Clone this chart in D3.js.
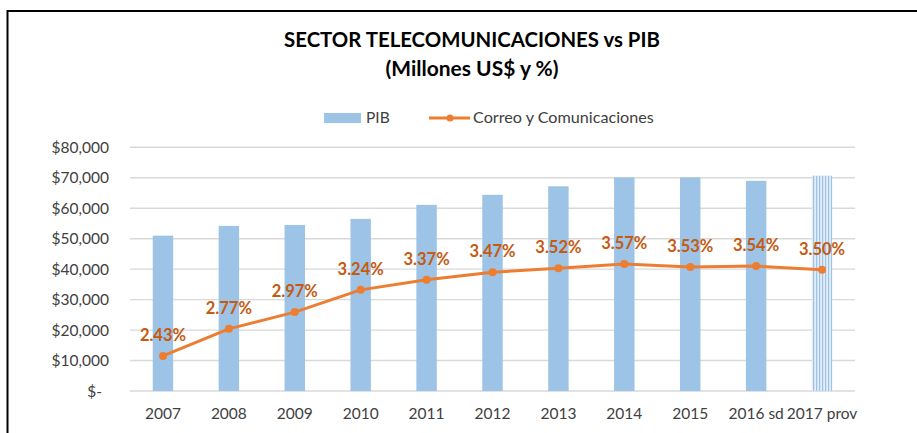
<!DOCTYPE html>
<html><head><meta charset="utf-8">
<script src="https://cdn.jsdelivr.net/npm/d3@7"></script>
<style>
body{margin:0;background:#fff}
text{font-family:Lato,'Liberation Sans',sans-serif}
</style></head>
<body><svg id="c" width="917" height="433"></svg>
<script>
const categories=["2007","2008","2009","2010","2011","2012","2013","2014","2015","2016 sd","2017 prov"];
const pibValues=[51000,54200,54500,56500,61100,64400,67200,70100,70100,69000,70700];
const correoValues=[11500,20400,25900,33200,36500,39000,40300,41700,40700,41000,39800];
const correoLabels=["2.43%","2.77%","2.97%","3.24%","3.37%","3.47%","3.52%","3.57%","3.53%","3.54%","3.50%"];
const yTicks=[0,10000,20000,30000,40000,50000,60000,70000,80000];
const titleLines=["SECTOR TELECOMUNICACIONES vs PIB","(Millones US$ y %)"];
const legendNames=["PIB","Correo y Comunicaciones"];

const svg=d3.select("#c");
const barColor="#9DC3E6", lineColor="#ED7D31", labelColor="#C55A11", axisText="#404040";

const defs=svg.append("defs");
const pat=defs.append("pattern").attr("id","stripes").attr("patternUnits","userSpaceOnUse")
  .attr("width",3).attr("height",10);
pat.append("rect").attr("width",3).attr("height",10).attr("fill","#E2EDF8");
pat.append("rect").attr("width",1.2).attr("height",10).attr("fill",barColor);

svg.append("path").attr("d","M7.5,433V11H917").attr("fill","none").attr("stroke","#000").attr("stroke-width",2);

const x=d3.scaleBand().domain(categories).range([130,855]).padding(0);
const y=d3.scaleLinear().domain([0,80000]).range([391,147.3]);

svg.append("g").selectAll("line").data(yTicks).join("line")
  .attr("x1",130).attr("x2",855).attr("y1",d=>y(d)).attr("y2",d=>y(d))
  .attr("stroke","#D9D9D9").attr("stroke-width",1.4);

const fmt=d3.format(",");
svg.append("g").selectAll("text").data(yTicks).join("text")
  .attr("x",d=>d===0?102:109).attr("y",d=>y(d)+5.5)
  .attr("text-anchor","end").attr("font-size",15.5).attr("fill",axisText)
  .text(d=>d===0?"$-":"$"+fmt(d));

svg.append("g").selectAll("text").data(categories).join("text")
  .attr("x",d=>x(d)+x.bandwidth()/2).attr("y",419)
  .attr("text-anchor","middle").attr("font-size",15.5).attr("fill",axisText)
  .text(d=>d);

const bw=x.step()*0.31;
svg.append("g").selectAll("rect").data(pibValues).join("rect")
  .attr("x",(d,i)=>x(categories[i])+x.bandwidth()/2-bw/2)
  .attr("width",bw)
  .attr("y",d=>y(d)).attr("height",d=>y(0)-y(d))
  .attr("fill",(d,i)=>i===categories.length-1?"url(#stripes)":barColor);

const cx=i=>x(categories[i])+x.bandwidth()/2;
svg.append("path").datum(correoValues)
  .attr("d",d3.line().x((d,i)=>cx(i)).y(d=>y(d)))
  .attr("fill","none").attr("stroke",lineColor).attr("stroke-width",3).attr("stroke-linejoin","round");
svg.append("g").selectAll("circle").data(correoValues).join("circle")
  .attr("cx",(d,i)=>cx(i)).attr("cy",d=>y(d)).attr("r",4).attr("fill",lineColor);
svg.append("g").selectAll("text").data(correoValues).join("text")
  .attr("x",(d,i)=>cx(i)).attr("y",d=>y(d)-15)
  .attr("text-anchor","middle").attr("font-size",16.5).attr("font-weight","bold").attr("fill",labelColor)
  .text((d,i)=>correoLabels[i]);

function fit(sel,w){const l=sel.node().getComputedTextLength();const fs=parseFloat(sel.attr("font-size"));sel.attr("font-size",fs*w/l);return fs*w/l;}

const t1=svg.append("text").attr("x",472).attr("y",47).attr("text-anchor","middle")
  .attr("font-size",18).attr("font-weight","bold").attr("fill","#000").text(titleLines[0]);
const tfs=fit(t1,376);
svg.append("text").attr("x",472).attr("y",76).attr("text-anchor","middle")
  .attr("font-size",tfs*1.03).attr("font-weight","bold").attr("fill","#000").text(titleLines[1]);

svg.append("rect").attr("x",324).attr("y",113).attr("width",37).attr("height",10).attr("fill",barColor);
svg.append("text").attr("x",366).attr("y",123).attr("font-size",15.5).attr("fill",axisText).text(legendNames[0]);
svg.append("line").attr("x1",429).attr("x2",470).attr("y1",118).attr("y2",118).attr("stroke",lineColor).attr("stroke-width",3);
svg.append("circle").attr("cx",450).attr("cy",118).attr("r",3.5).attr("fill",lineColor);
const l2=svg.append("text").attr("x",473).attr("y",123).attr("font-size",15.5).attr("fill",axisText).text(legendNames[1]);
fit(l2,181);
</script></body></html>
